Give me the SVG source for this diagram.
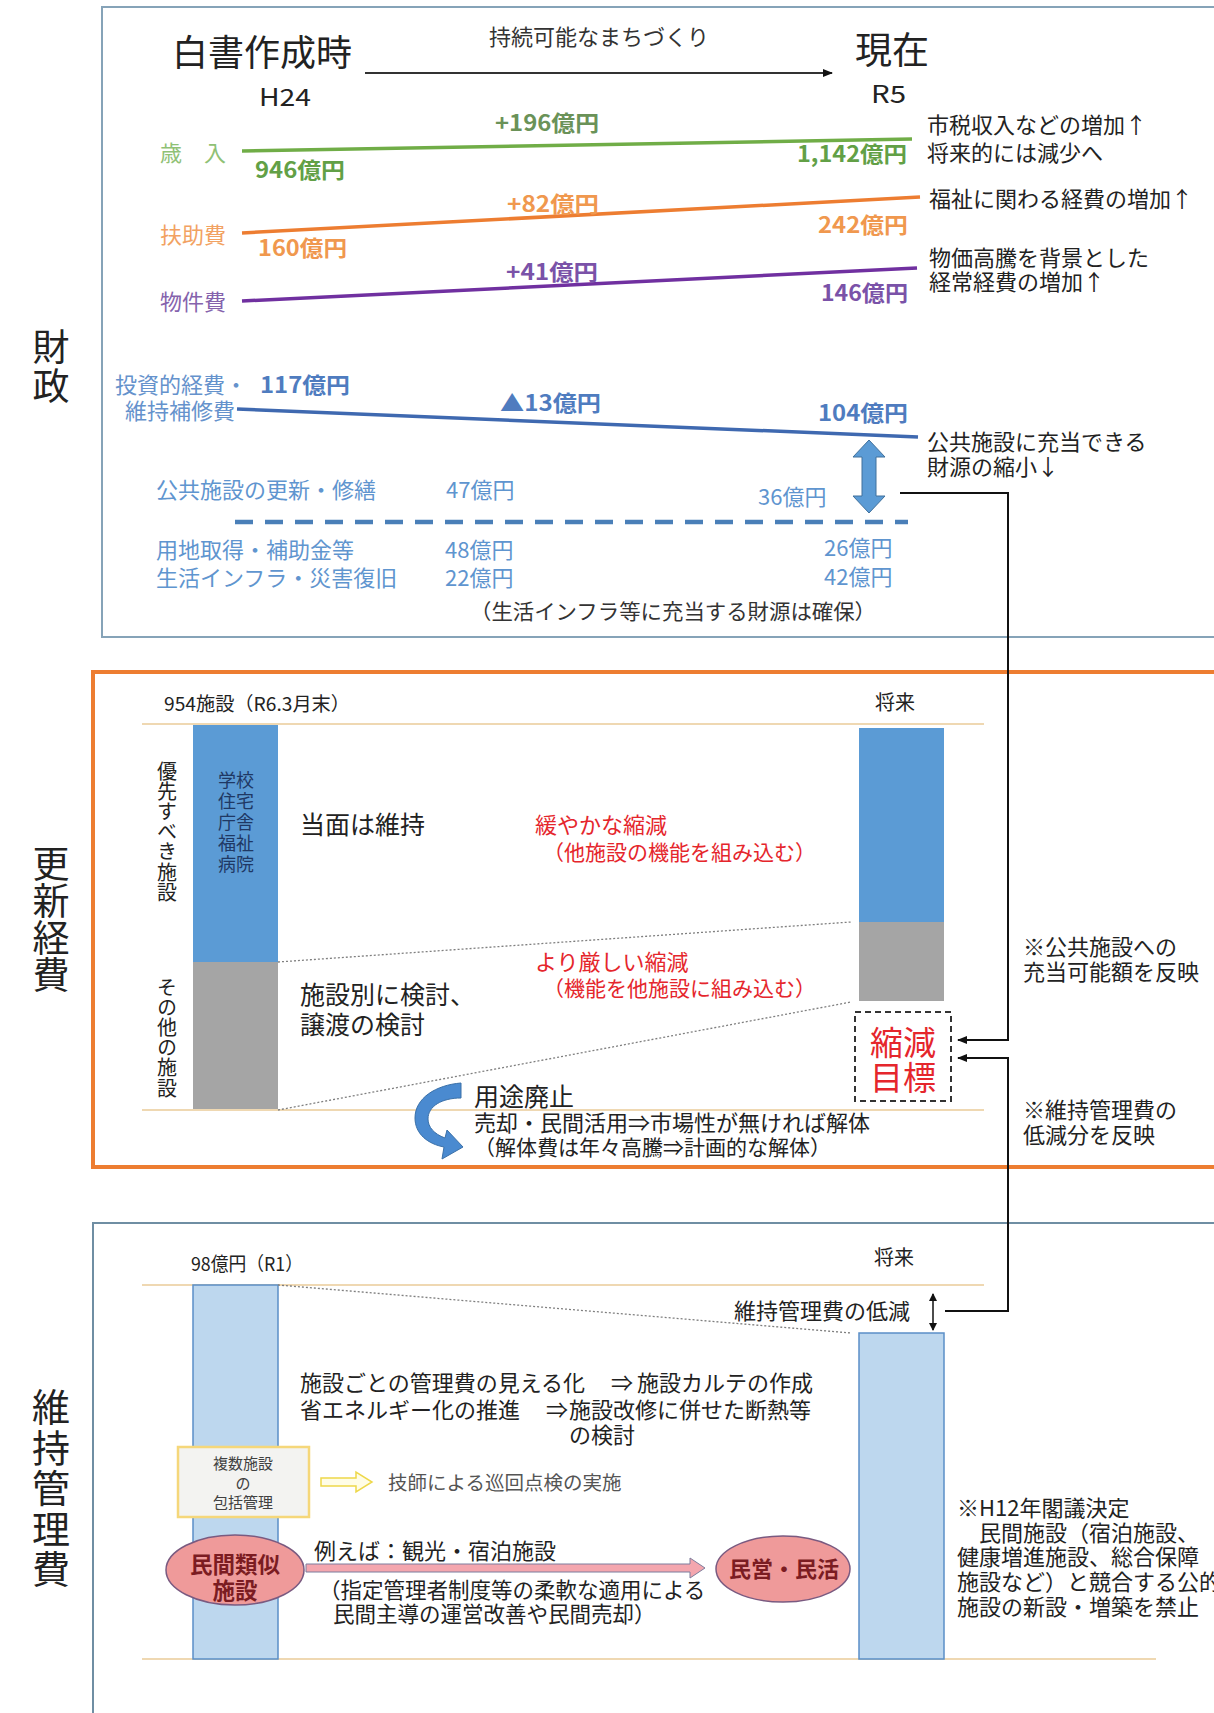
<svg xmlns="http://www.w3.org/2000/svg" width="1214" height="1713" viewBox="0 0 1214 1713">
<style>
text{font-family:"Noto Sans CJK JP","Noto Sans",sans-serif;fill:#222}
.t22{font-size:22px}
.t21{font-size:21px}
.vert{writing-mode:vertical-rl}
.num{font-size:22px;font-weight:bold}
.g{fill:#62a046}.gl{fill:#8fc175}
.o{fill:#f0984e}.ol{fill:#f2a262}
.p{fill:#7a52a8}.pl{fill:#8563ad}
.b{fill:#4f7cbf}.bl{fill:#6592cc}
.lb{fill:#5f95cf}
.red{fill:#e5262c}
.tan{stroke:#efd8b2;stroke-width:2;fill:none}
.dot{stroke:#7f7f7f;stroke-width:1.3;stroke-dasharray:2 2;fill:none}
.conn{stroke:#111;stroke-width:2;fill:none}
</style>
<defs>
<marker id="ah" markerWidth="10" markerHeight="8" refX="9" refY="4" orient="auto" markerUnits="userSpaceOnUse">
<path d="M0,0 L10,4 L0,8 Z" fill="#111"/>
</marker>
<marker id="ahs" markerWidth="8" markerHeight="8" refX="7" refY="4" orient="auto-start-reverse" markerUnits="userSpaceOnUse">
<path d="M0,0 L8,4 L0,8 Z" fill="#111"/>
</marker>
</defs>
<rect width="1214" height="1713" fill="#fff"/>

<!-- Section labels -->
<g id="label-zaisei">
<text class="vert" x="51" y="328" style="font-size:37px;letter-spacing:2px">財政</text>
</g>
<g id="label-koshin">
<text class="vert" x="51" y="845" style="font-size:37px;letter-spacing:0.3px">更新経費</text>
</g>
<g id="label-iji">
<text class="vert" x="51" y="1388" style="font-size:38px;letter-spacing:2.4px">維持管理費</text>
</g>

<!-- Section 1: finance -->
<g id="finance">
<rect x="102" y="7" width="1200" height="630" fill="none" stroke="#86a3b8" stroke-width="2"/>
<text x="172" y="66" style="font-size:36px">白書作成時</text>
<text x="489" y="45" class="t22" style="fill:#333">持続可能なまちづくり</text>
<line x1="365" y1="73" x2="832" y2="73" stroke="#333" stroke-width="2" marker-end="url(#ah)"/>
<text x="855" y="64" style="font-size:37px">現在</text>
<text x="259" y="106" style="font-size:24px" textLength="52" lengthAdjust="spacingAndGlyphs">H24</text>
<text x="871" y="103" style="font-size:24px" textLength="35" lengthAdjust="spacingAndGlyphs">R5</text>

<g id="revenue">
<line x1="242" y1="151" x2="912" y2="139" stroke="#70ad47" stroke-width="3.5"/>
<text x="160" y="161" class="t22 gl">歳　入</text>
<text x="255" y="178" class="num g" textLength="90" lengthAdjust="spacingAndGlyphs">946億円</text>
<text x="495" y="131" class="num" style="fill:#6a9258" textLength="104" lengthAdjust="spacingAndGlyphs">+196億円</text>
<text x="797" y="162" class="num g" textLength="110" lengthAdjust="spacingAndGlyphs">1,142億円</text>
<text class="t22"><tspan x="927" y="133">市税収入などの増加↑</tspan><tspan x="927" y="161">将来的には減少へ</tspan></text>
</g>
<g id="assistance">
<line x1="242" y1="233" x2="920" y2="197" stroke="#ed7d31" stroke-width="3.5"/>
<text x="160" y="243" class="t22 ol">扶助費</text>
<text x="258" y="256" class="num o" textLength="89" lengthAdjust="spacingAndGlyphs">160億円</text>
<text x="507" y="212" class="num o" textLength="92" lengthAdjust="spacingAndGlyphs">+82億円</text>
<text x="818" y="233" class="num o" textLength="90" lengthAdjust="spacingAndGlyphs">242億円</text>
<text x="929" y="207" class="t22">福祉に関わる経費の増加↑</text>
</g>
<g id="goods">
<line x1="242" y1="301" x2="917" y2="268" stroke="#7030a0" stroke-width="3.5"/>
<text x="160" y="310" class="t22 pl">物件費</text>
<text x="506" y="280" class="num p" textLength="92" lengthAdjust="spacingAndGlyphs">+41億円</text>
<text x="821" y="301" class="num p" textLength="87" lengthAdjust="spacingAndGlyphs">146億円</text>
<text class="t22"><tspan x="929" y="266">物価高騰を背景とした</tspan><tspan x="929" y="290">経常経費の増加↑</tspan></text>
</g>
<g id="investment">
<line x1="237" y1="409" x2="918" y2="437" stroke="#3f69b0" stroke-width="3.5"/>
<text class="t22 bl"><tspan x="115" y="393">投資的経費・</tspan><tspan x="125" y="419">維持補修費</tspan></text>
<text x="260" y="393" class="num b" textLength="90" lengthAdjust="spacingAndGlyphs">117億円</text>
<text x="500" y="411" class="num b" textLength="101" lengthAdjust="spacingAndGlyphs">▲13億円</text>
<text x="818" y="421" class="num b" textLength="90" lengthAdjust="spacingAndGlyphs">104億円</text>
<text class="t22"><tspan x="927" y="450">公共施設に充当できる</tspan><tspan x="927" y="475">財源の縮小↓</tspan></text>
<polygon points="869,440 885,457 876,457 876,496 885,496 869,513 853,496 862,496 862,457 853,457" fill="#5b9bd5" stroke="#41719c" stroke-width="1"/>
</g>
<g id="breakdown">
<text x="156" y="498" class="t22 lb">公共施設の更新・修繕</text>
<text x="446" y="498" class="t22 lb">47億円</text>
<text x="758" y="505" class="t22 lb">36億円</text>
<line x1="235" y1="522" x2="908" y2="522" stroke="#4a7fb8" stroke-width="4.5" stroke-dasharray="18 12"/>
<text class="t22 lb"><tspan x="156" y="558">用地取得・補助金等</tspan><tspan x="156" y="586">生活インフラ・災害復旧</tspan></text>
<text class="t22 lb"><tspan x="445" y="558">48億円</tspan><tspan x="445" y="586">22億円</tspan></text>
<text class="t22 lb"><tspan x="824" y="556">26億円</tspan><tspan x="824" y="585">42億円</tspan></text>
<text x="470" y="619" class="t21" style="fill:#333" textLength="406" lengthAdjust="spacingAndGlyphs">（生活インフラ等に充当する財源は確保）</text>
</g>
</g>

<!-- Section 2: renewal cost -->
<g id="renewal">
<rect x="93" y="672" width="1200" height="495" fill="none" stroke="#ed7d31" stroke-width="4"/>
<text x="164" y="711" style="font-size:19px" textLength="186" lengthAdjust="spacingAndGlyphs">954施設（R6.3月末）</text>
<text x="875" y="710" style="font-size:20px">将来</text>
<line class="tan" x1="142" y1="724" x2="984" y2="724"/>
<line class="tan" x1="142" y1="1110" x2="984" y2="1110"/>
<g id="bar-now">
<rect x="193" y="725" width="85" height="237" fill="#5b9bd5"/>
<rect x="193" y="962" width="85" height="147" fill="#a5a5a5"/>
<text text-anchor="middle" style="font-size:18px;fill:#1f3864"><tspan x="236" y="787">学校</tspan><tspan x="236" y="808">住宅</tspan><tspan x="236" y="829">庁舎</tspan><tspan x="236" y="850">福祉</tspan><tspan x="236" y="871">病院</tspan></text>
</g>
<g id="label-priority">
<text class="vert" x="167" y="761" style="font-size:20px;letter-spacing:0.2px">優先すべき施設</text>
</g>
<g id="label-other">
<text class="vert" x="167" y="977" style="font-size:20px;letter-spacing:0.2px">その他の施設</text>
</g>
<g id="bar-future">
<rect x="859" y="728" width="85" height="194" fill="#5b9bd5"/>
<rect x="859" y="922" width="85" height="79" fill="#a5a5a5"/>
</g>
<line class="dot" x1="278" y1="962" x2="851" y2="922"/>
<line class="dot" x1="278" y1="1110" x2="851" y2="1002"/>
<text x="300" y="834" style="font-size:25px">当面は維持</text>
<text class="red"><tspan x="535" y="833" style="font-size:22px">緩やかな縮減</tspan><tspan x="543" y="860" style="font-size:21px">（他施設の機能を組み込む）</tspan></text>
<text class="red"><tspan x="535" y="970" style="font-size:22px">より厳しい縮減</tspan><tspan x="543" y="996" style="font-size:21px">（機能を他施設に組み込む）</tspan></text>
<text style="font-size:25px"><tspan x="300" y="1004">施設別に検討、</tspan><tspan x="300" y="1034">譲渡の検討</tspan></text>
<g id="target">
<rect x="855" y="1012" width="96" height="89" fill="#fff" stroke="#333" stroke-width="2" stroke-dasharray="6 4"/>
<text text-anchor="middle" class="red" style="font-size:33px"><tspan x="903" y="1055">縮減</tspan><tspan x="903" y="1090">目標</tspan></text>
</g>
<g id="abolish">
<path d="M461,1083 C436,1085 415,1098 415,1118 C415,1134 428,1144 444,1147 L442,1159 L463,1147 L447,1130 L445,1138 C434,1134 428,1127 428,1119 C428,1106 442,1098 461,1098 Z" fill="#4a8ad0" stroke="#3a70a8" stroke-width="1"/>
<text><tspan x="474" y="1106" style="font-size:25px">用途廃止</tspan><tspan x="474" y="1131" style="font-size:22px">売却・民間活用⇒市場性が無ければ解体</tspan><tspan x="474" y="1155" style="font-size:21px">（解体費は年々高騰⇒計画的な解体）</tspan></text>
</g>
<text class="t22"><tspan x="1023" y="955">※公共施設への</tspan><tspan x="1023" y="980">充当可能額を反映</tspan></text>
<text class="t22"><tspan x="1023" y="1118">※維持管理費の</tspan><tspan x="1023" y="1143">低減分を反映</tspan></text>
</g>

<!-- Section 3: maintenance cost -->
<g id="maintenance">
<rect x="93" y="1223" width="1200" height="600" fill="none" stroke="#6f8ea3" stroke-width="2"/>
<text x="191" y="1271" style="font-size:19px" textLength="112" lengthAdjust="spacingAndGlyphs">98億円（R1）</text>
<text x="874" y="1265" style="font-size:20px">将来</text>
<line class="tan" x1="142" y1="1285" x2="984" y2="1285"/>
<line class="tan" x1="142" y1="1659" x2="1156" y2="1659"/>
<rect x="193" y="1285" width="85" height="374" fill="#bdd7ee" stroke="#5b8fc7" stroke-width="1.5"/>
<rect x="859" y="1333" width="85" height="326" fill="#bdd7ee" stroke="#5b8fc7" stroke-width="1.5"/>
<line class="dot" x1="278" y1="1285" x2="851" y2="1333"/>
<text x="734" y="1319" class="t22">維持管理費の低減</text>
<line x1="933" y1="1294" x2="933" y2="1330" stroke="#111" stroke-width="1.5" marker-start="url(#ahs)" marker-end="url(#ahs)"/>
<text class="t22"><tspan x="300" y="1391">施設ごとの管理費の見える化</tspan><tspan x="611" y="1391">⇒</tspan><tspan x="637" y="1391">施設カルテの作成</tspan><tspan x="300" y="1418">省エネルギー化の推進</tspan><tspan x="546" y="1418">⇒</tspan><tspan x="569" y="1418">施設改修に併せた断熱等</tspan><tspan x="569" y="1443">の検討</tspan></text>
<g id="joint-mgmt">
<rect x="178" y="1447" width="131" height="70" fill="#f3f3f1" stroke="#f5d77a" stroke-width="2.5"/>
<text text-anchor="middle" style="font-size:15px;fill:#404040"><tspan x="243" y="1469">複数施設</tspan><tspan x="243" y="1489">の</tspan><tspan x="243" y="1508">包括管理</tspan></text>
</g>
<polygon points="321,1478 356,1478 356,1472 372,1482 356,1492 356,1486 321,1486" fill="#fffde6" stroke="#eed84a" stroke-width="1.5"/>
<text x="388" y="1490" style="font-size:19.5px;fill:#555">技師による巡回点検の実施</text>
<g id="private-like">
<ellipse cx="235" cy="1570" rx="69" ry="35" fill="#ef9a9a" stroke="#7a5a80" stroke-width="1.5"/>
<text text-anchor="middle" style="font-size:22.5px;font-weight:bold;fill:#7b1c22"><tspan x="235" y="1573">民間類似</tspan><tspan x="235" y="1599">施設</tspan></text>
</g>
<polygon points="306,1564 690,1564 690,1558 705,1568 690,1578 690,1572 306,1572" fill="#f4a6ae" stroke="#7d7d9d" stroke-width="1"/>
<text><tspan x="314" y="1559" style="font-size:22px">例えば：観光・宿泊施設</tspan><tspan x="319" y="1598" style="font-size:21.5px">（指定管理者制度等の柔軟な適用による</tspan><tspan x="333" y="1622" style="font-size:21.5px">民間主導の運営改善や民間売却）</tspan></text>
<g id="private-run">
<ellipse cx="783" cy="1569" rx="67" ry="33" fill="#ef9a9a" stroke="#7a5a80" stroke-width="1.5"/>
<text x="784" y="1577" text-anchor="middle" style="font-size:22px;font-weight:bold;fill:#7b1c22">民営・民活</text>
</g>
<text class="t22"><tspan x="957" y="1516">※H12年閣議決定</tspan><tspan x="957" y="1541">　民間施設（宿泊施設、</tspan><tspan x="957" y="1565">健康増進施設、総合保障</tspan><tspan x="957" y="1590">施設など）と競合する公的</tspan><tspan x="957" y="1615">施設の新設・増築を禁止</tspan></text>
</g>

<!-- Connectors -->
<g id="connectors">
<path class="conn" d="M900,493 H1008 V1040 H958" marker-end="url(#ah)"/>
<path class="conn" d="M945,1311 H1008 V1058 H958" marker-end="url(#ah)"/>
</g>
</svg>
